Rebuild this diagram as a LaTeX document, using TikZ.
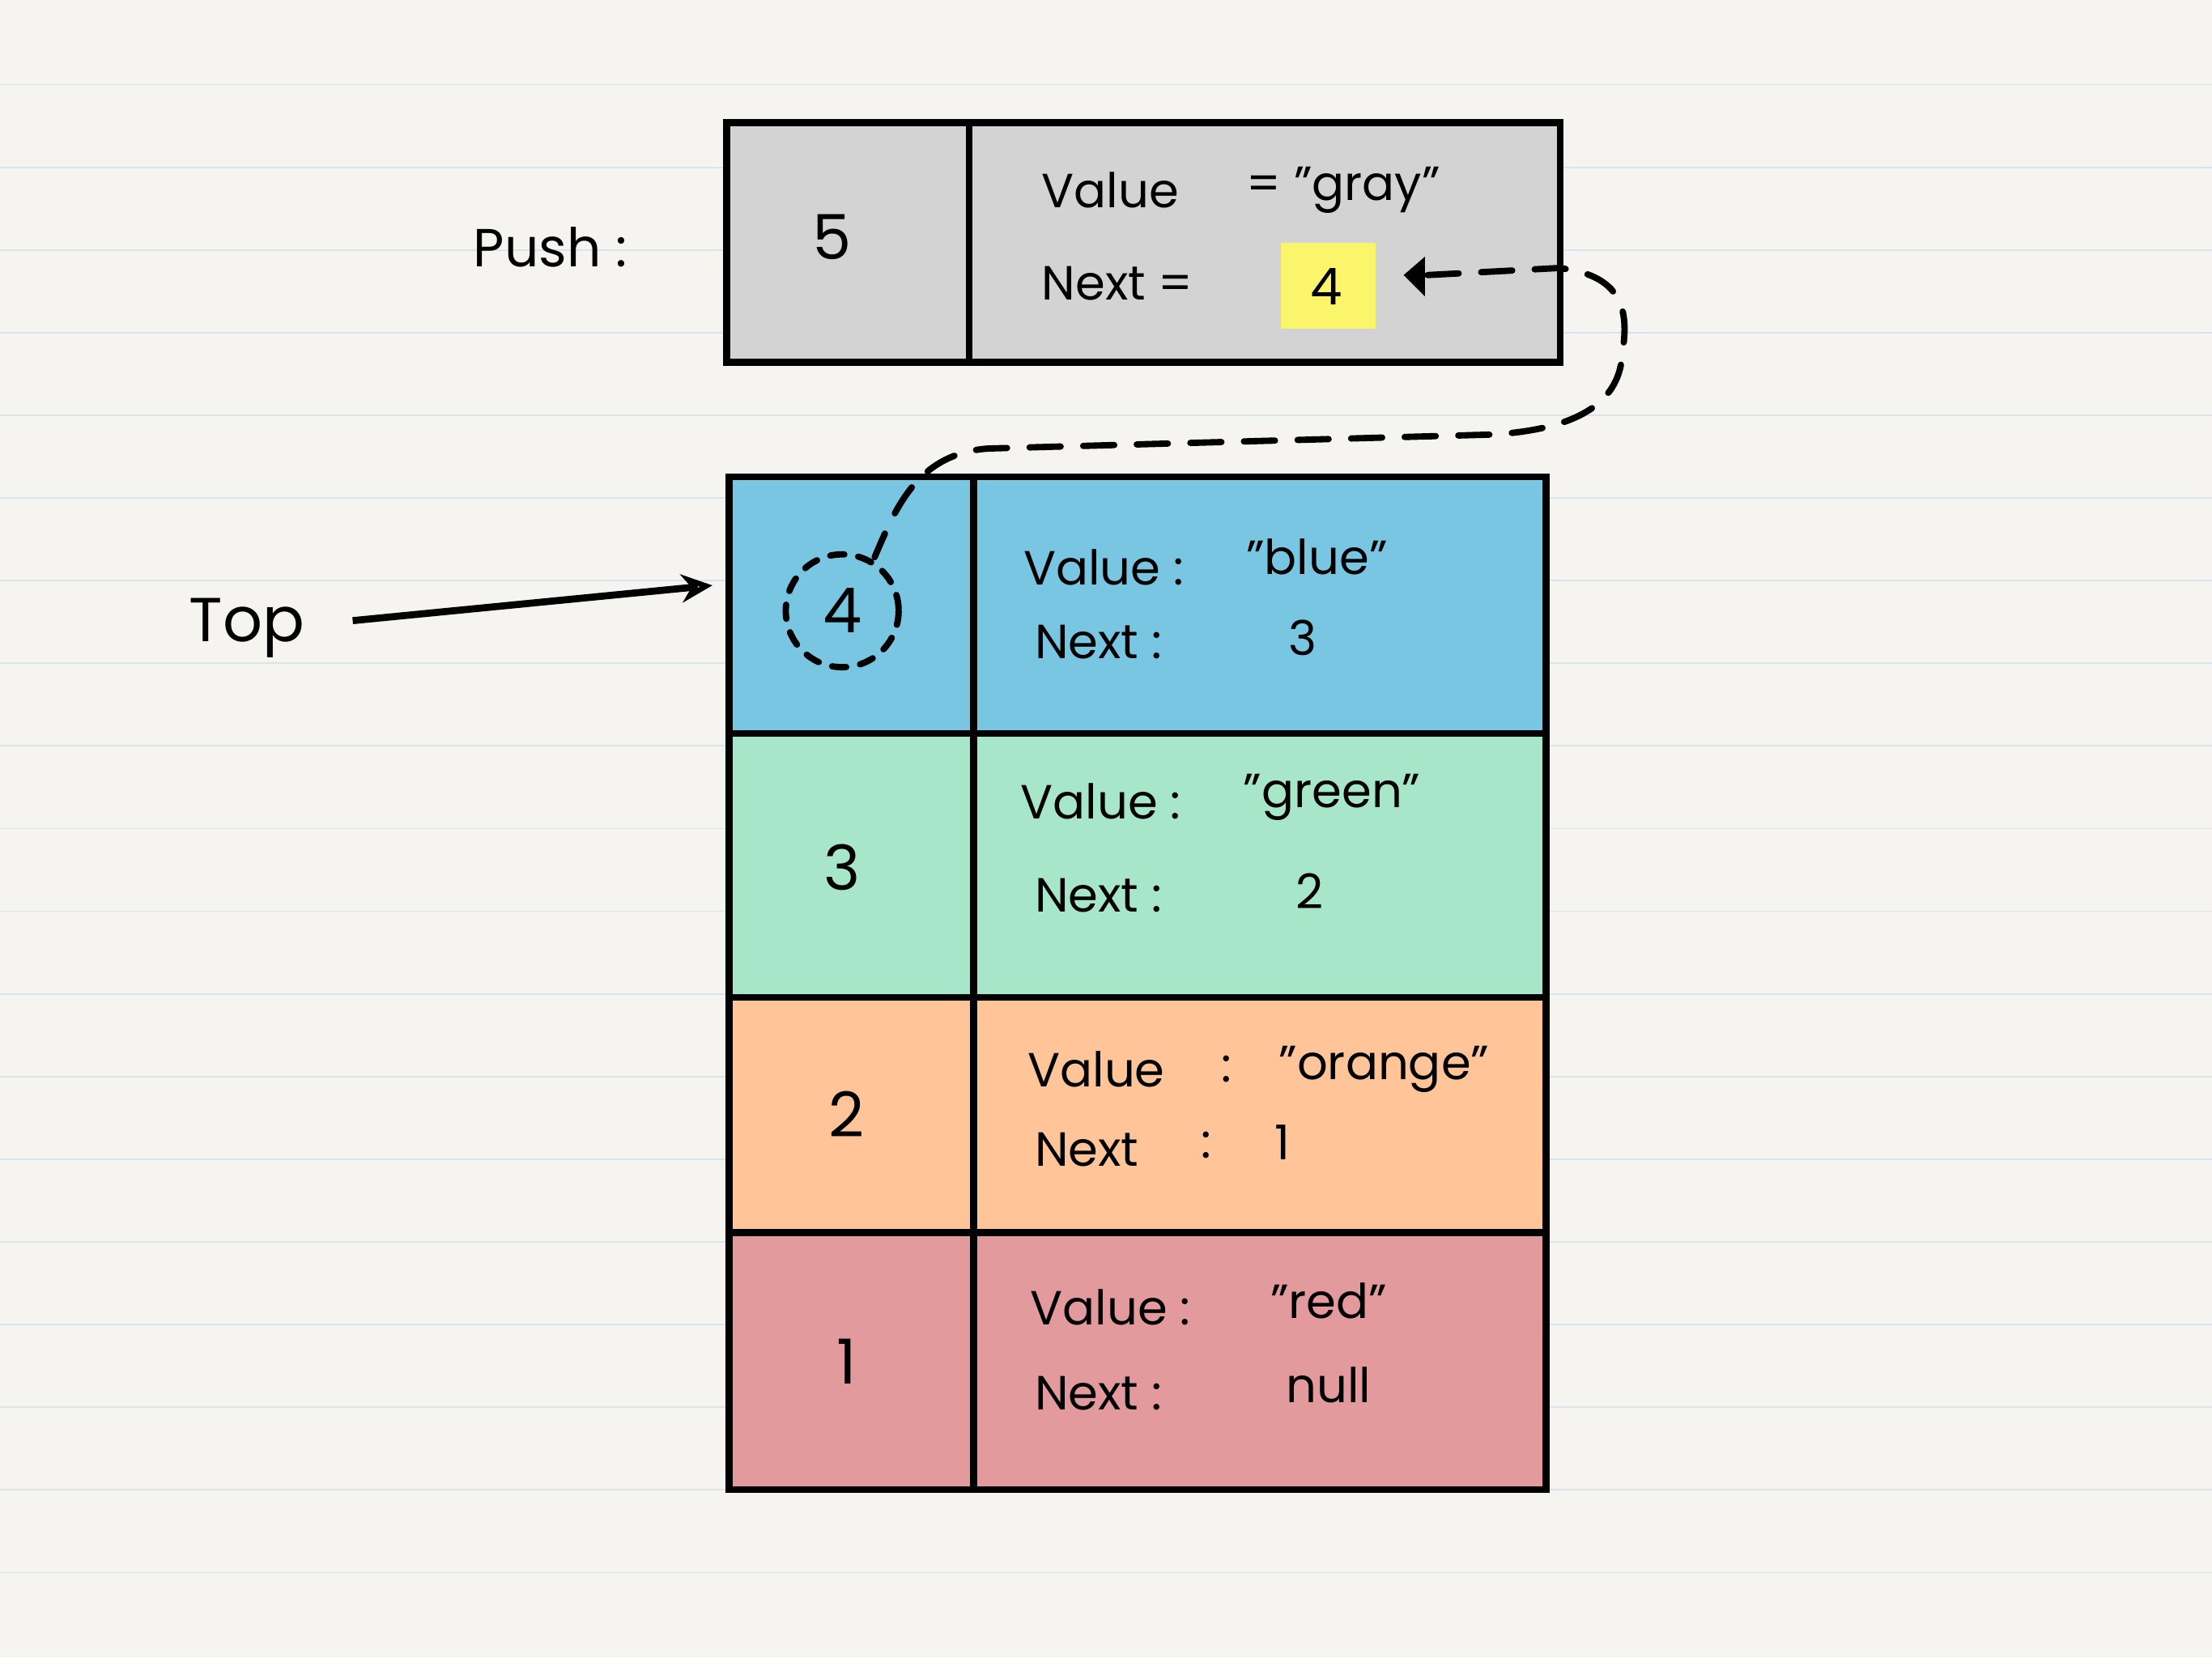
\documentclass[tikz,border=0pt]{standalone}
\usepackage{fontspec}
\setmainfont{Poppins}
\usetikzlibrary{arrows.meta}
\definecolor{bg}{HTML}{F5F4F0}
\definecolor{rule}{HTML}{D6E4EE}
\definecolor{cgray}{HTML}{D3D3D3}
\definecolor{cblue}{HTML}{78C6E2}
\definecolor{cgreen}{HTML}{A8E6CA}
\definecolor{corange}{HTML}{FFC599}
\definecolor{cred}{HTML}{E39A9C}
\definecolor{hl}{HTML}{FAF56A}
\tikzset{cell/.style={draw=black,line width=5pt},
 txt/.style={font=\fontsize{34}{40}\selectfont,anchor=west,align=left},
 num/.style={font=\fontsize{44}{50}\selectfont},
 dsh/.style={line width=4.5pt,dash pattern=on 22pt off 16pt,line cap=round}}
\begin{document}
\begin{tikzpicture}[x=1pt,y=-1pt]
\fill[bg] (0,0) rectangle (1568,1175);
\useasboundingbox (0,0) rectangle (1568,1175);
\foreach \i in {0,...,18} \draw[rule,line width=1pt] (0,{60+\i*58.6}) -- (1568,{60+\i*58.6});
% push box
\draw[cell,fill=cgray] (515,87) rectangle (1106,257);
\draw[cell] (687,87) -- (687,257);
\node[num] (p5) at (590,168) {5};
\node[font=\fontsize{38}{44}\selectfont] (push) at (390,175) {Push :};
\fill[hl] (908,172) rectangle (975,233);
\node[txt] (pv) at (735,135) {Value};
\node[txt] at (880,135) {= "gray"};
\node[txt] (pn) at (735,201) {Next =};
\node[font=\fontsize{36}{40}\selectfont] (p4) at (940,203) {4};
\coordinate (ah) at (995,195);
% stack
\draw[cell,fill=cblue] (517,338) rectangle (1096,520);
\draw[cell,fill=cgreen] (517,520) rectangle (1096,707);
\draw[cell,fill=corange] (517,707) rectangle (1096,874);
\draw[cell,fill=cred] (517,874) rectangle (1096,1056);
\draw[cell] (690,338) -- (690,1056);
\node[num] (n4) at (597,433) {4};
\draw[dsh,dash pattern=on 10pt off 10pt] (n4) circle (40);
\node[num] (n3) at (597,615) {3};
\node[num] (n2) at (600,790) {2};
\node[num] (n1) at (600,965) {1};
\node[txt] at (722,402) {Value :}; \node[txt] at (880,395) {"blue"};
\node[txt] at (730,455) {Next :};   \node[txt] at (910,452) {3};
\node[txt] at (720,568) {Value :};  \node[txt] at (878,565) {"green"};
\node[txt] at (730,635) {Next :};   \node[txt] at (915,632) {2};
\node[txt] at (725,758) {Value};    \node[txt] at (862,758) {:}; \node[txt] at (903,758) {"orange"};
\node[txt] at (730,815) {Next};     \node[txt] at (848,812) {:}; \node[txt] at (900,810) {1};
\node[txt] at (727,927) {Value :};  \node[txt] at (897,922) {"red"};
\node[txt] at (730,988) {Next :};   \node[txt] at (908,982) {null};
% top arrow
\node[font=\fontsize{44}{50}\selectfont] (top) at (175,445) {Top};
\coordinate (ta) at (505,415);
\draw[line width=5pt,-{Stealth[length=22pt,width=20pt,open]}] (250,440) -- (ta);
% dashed connector
\fill (ah) -- (1010,182) -- (1010,210) -- cycle;
\draw[dsh] (1012,195) -- (1105,190) .. controls (1150,195) and (1155,220) .. (1150,250)
 .. controls (1148,295) and (1100,305) .. (1060,308) -- (700,318)
 .. controls (650,322) and (635,360) .. (620,395);
\end{tikzpicture}
\end{document}
